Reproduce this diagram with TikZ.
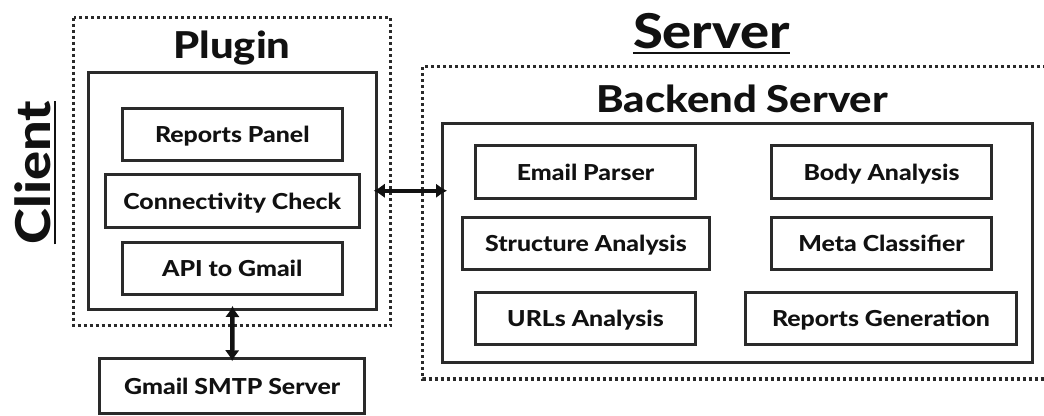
\documentclass[tikz,border=0pt]{standalone}
\usepackage{fontspec}
\setmainfont{Lato}[BoldFont={Lato Heavy}, BoldFeatures={FakeStretch=1.13}]
\usetikzlibrary{arrows.meta}
\definecolor{ink}{HTML}{111111}
\definecolor{edge}{HTML}{2A2A2A}
\tikzset{
  frame/.style={draw=edge, line width=3pt, inner sep=0pt},
  module/.style={draw=edge, line width=3pt, inner sep=0pt, text=ink,
    text height=16pt, text depth=0pt,
    font=\fontsize{22}{26}\selectfont\bfseries},
  zone/.style={draw=edge, line width=3.2pt, dash pattern=on 3pt off 3pt},
  heading/.style={inner sep=0pt, text=ink, font=\fontsize{37}{42}\selectfont\bfseries},
  bigheading/.style={inner sep=0pt, text=ink, font=\fontsize{48}{56}\selectfont\bfseries},
  rule/.style={draw=ink, line width=2pt},
  link/.style={draw=ink, line width=4.5pt, {Latex[length=11pt,width=15pt]}-{Latex[length=11pt,width=15pt]}},
}
\begin{document}
\begin{tikzpicture}[x=1pt,y=-1pt]
\useasboundingbox (0,0) rectangle (1044,415);

% client side
\draw[zone] (73.5,17.5) rectangle (390.5,325.5);
\node[heading, anchor=base] (plugintitle) at (232,58) {Plugin};
\node[frame, minimum width=287.5pt, minimum height=237.5pt] (plugin) at (232.5,190.75) {};
\node[module, minimum width=220pt, minimum height=52pt] (reports) at (232.3,134.2) {Reports Panel};
\node[module, minimum width=253.7pt, minimum height=53pt] (conn) at (232.3,201.3) {Connectivity Check};
\node[module, minimum width=220pt, minimum height=52.3pt] (api) at (232.3,268.3) {API to Gmail};
\node[module, minimum width=264.7pt, minimum height=54.7pt] (smtp) at (232.2,386.1) {Gmail SMTP Server};

\node[bigheading, anchor=base, rotate=90] (client) at (50,172.5) {Client};
\draw[rule] ([xshift=5pt]client.base west) -- ([xshift=5pt]client.base east);

% server side
\node[bigheading, anchor=base] (server) at (711.5,48) {Server};
\draw[rule] ([yshift=-5pt]server.base west) -- ([yshift=-5pt]server.base east);
\draw[zone] (1046,66.5) -- (422.5,66.5) -- (422.5,379) -- (1046,379);
\node[heading, anchor=base] (backendtitle) at (742,112) {Backend Server};
\node[frame, minimum width=590pt, minimum height=239pt] (backend) at (737.5,243) {};

\node[module, minimum width=220pt, minimum height=53pt] (parser) at (585.5,172) {Email Parser};
\node[module, minimum width=247pt, minimum height=52pt] (structure) at (586,243.5) {Structure Analysis};
\node[module, minimum width=220pt, minimum height=52pt] (urls) at (585.5,318.5) {URLs Analysis};
\node[module, minimum width=220pt, minimum height=53pt] (body) at (881.5,172) {Body Analysis};
\node[module, minimum width=220pt, minimum height=52pt] (meta) at (881.5,243.5) {Meta Classifier};
\node[module, minimum width=271pt, minimum height=52pt] (repgen) at (881,318.5) {Reports Generation};

% connectors
\draw[link, shorten <=-4pt, shorten >=-6pt] (plugin.east) -- (plugin.east -| backend.west);
\draw[link, shorten <=-5pt, shorten >=-4pt] (plugin.south) -- (smtp.north);
\end{tikzpicture}
\end{document}
